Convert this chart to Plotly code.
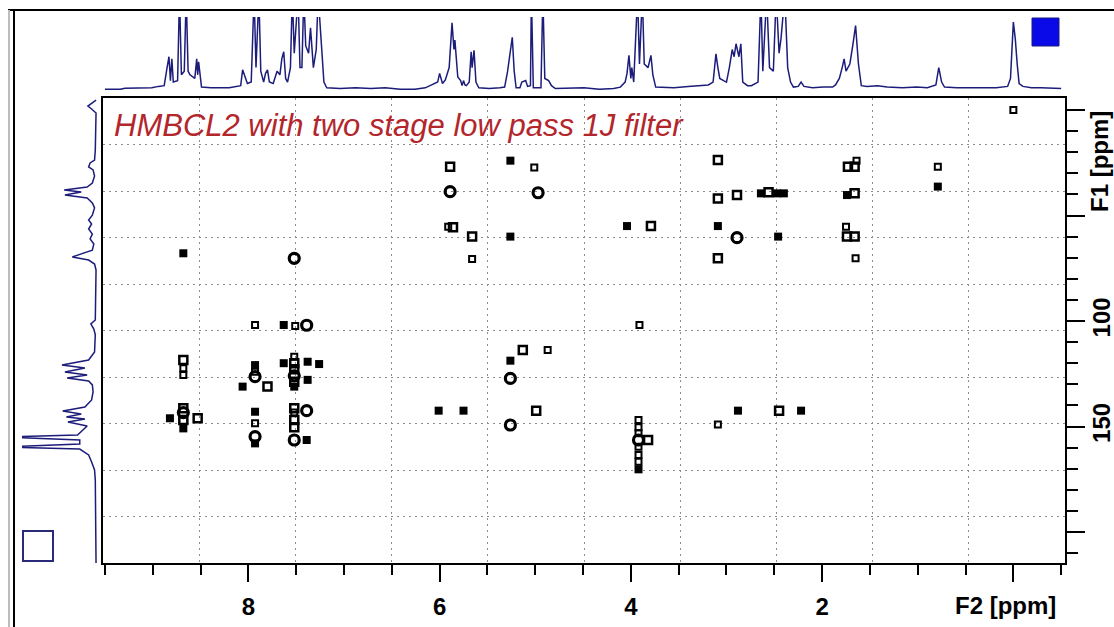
import plotly.graph_objects as go

W, H = 1114, 627


def px_x(p):
    return p / W


def px_y(p):
    return 1 - p / H


# 1H spectrum along F2: (ppm, relative intensity); values > 1 run off the top
h1_spectrum = [
    (9.50, 0.00), (9.34, 0.00), (9.29, 0.015), (9.25, 0.015), (9.01, 0.02), (8.94, 0.04),
    (8.88, 0.05), (8.85, 0.30), (8.83, 0.45), (8.815, 0.12), (8.80, 0.42), (8.785, 0.10),
    (8.74, 0.12), (8.72, 1.30), (8.70, 0.20), (8.67, 0.25), (8.65, 1.30), (8.63, 0.25),
    (8.61, 0.20), (8.56, 0.15), (8.54, 0.42), (8.53, 0.20), (8.52, 0.38), (8.49, 0.03),
    (8.39, 0.02), (8.20, 0.02), (8.08, 0.05), (8.06, 0.27), (8.04, 0.20), (8.01, 0.08),
    (7.97, 0.10), (7.94, 1.30), (7.92, 0.30), (7.89, 1.30), (7.87, 0.25), (7.84, 0.10),
    (7.82, 0.22), (7.80, 0.27), (7.78, 0.10), (7.74, 0.08), (7.70, 0.25), (7.67, 0.20),
    (7.65, 0.42), (7.63, 0.52), (7.61, 0.15), (7.59, 0.10), (7.56, 0.30), (7.54, 1.30),
    (7.52, 0.50), (7.48, 1.30), (7.46, 0.30), (7.44, 0.30), (7.42, 1.30), (7.40, 0.60),
    (7.37, 0.50), (7.35, 0.85), (7.32, 0.30), (7.29, 0.55), (7.27, 1.30), (7.24, 0.70),
    (7.21, 0.10), (7.18, 0.02), (7.04, 0.01), (6.88, 0.02), (6.72, 0.01), (6.57, 0.02),
    (6.41, 0.00), (6.26, 0.00), (6.15, 0.02), (6.10, 0.05), (6.05, 0.08), (6.02, 0.10),
    (6.00, 0.22), (5.97, 0.08), (5.94, 0.13), (5.90, 0.30), (5.87, 0.92), (5.85, 0.55),
    (5.84, 0.68), (5.81, 0.17), (5.78, 0.12), (5.765, 0.05), (5.75, 0.12), (5.735, 0.06),
    (5.72, 0.05), (5.69, 0.10), (5.67, 0.52), (5.66, 0.30), (5.64, 0.54), (5.62, 0.10),
    (5.59, 0.02), (5.48, 0.01), (5.37, 0.02), (5.32, 0.03), (5.29, 0.24), (5.26, 0.55),
    (5.24, 0.72), (5.22, 0.25), (5.20, 0.02), (5.16, 0.02), (5.14, 0.10), (5.10, 0.12),
    (5.08, 0.04), (5.05, 0.05), (5.04, 1.30), (5.02, 0.02), (4.94, 0.02), (4.92, 1.30),
    (4.90, 0.15), (4.86, 0.12), (4.83, 0.05), (4.79, 0.01), (4.65, 0.01), (4.49, 0.02),
    (4.33, 0.00), (4.18, 0.01), (4.11, 0.03), (4.06, 0.10), (4.04, 0.22), (4.02, 0.47),
    (4.00, 0.15), (3.99, 0.30), (3.97, 0.10), (3.93, 1.30), (3.91, 0.35), (3.88, 1.30),
    (3.86, 0.35), (3.82, 0.30), (3.79, 0.47), (3.77, 0.20), (3.74, 0.03), (3.55, 0.02),
    (3.40, 0.04), (3.29, 0.05), (3.19, 0.06), (3.14, 0.10), (3.11, 0.49), (3.09, 0.30),
    (3.07, 0.15), (3.03, 0.12), (3.00, 0.10), (2.97, 0.30), (2.94, 0.55), (2.92, 0.45),
    (2.90, 0.63), (2.87, 0.45), (2.85, 0.63), (2.83, 0.10), (2.78, 0.05), (2.74, 0.05),
    (2.70, 0.08), (2.67, 0.10), (2.64, 1.30), (2.62, 0.25), (2.58, 1.30), (2.55, 0.30),
    (2.51, 0.25), (2.48, 1.30), (2.45, 0.50), (2.43, 0.70), (2.39, 1.30), (2.36, 0.30),
    (2.33, 0.10), (2.30, 0.03), (2.25, 0.04), (2.22, 0.10), (2.19, 0.04), (2.10, 0.02),
    (1.99, 0.03), (1.89, 0.03), (1.86, 0.06), (1.82, 0.15), (1.79, 0.30), (1.77, 0.42),
    (1.75, 0.25), (1.71, 0.35), (1.68, 0.60), (1.65, 0.88), (1.62, 0.35), (1.59, 0.05),
    (1.53, 0.04), (1.42, 0.05), (1.32, 0.03), (1.16, 0.02), (1.01, 0.03), (0.90, 0.02),
    (0.81, 0.06), (0.78, 0.30), (0.75, 0.10), (0.72, 0.03), (0.59, 0.02), (0.38, 0.02),
    (0.18, 0.02), (0.06, 0.04), (0.03, 0.15), (0.00, 0.93), (-0.02, 0.70), (-0.04, 0.35),
    (-0.06, 0.08), (-0.10, 0.04), (-0.19, 0.02), (-0.29, 0.02), (-0.50, 0.01),
]

# 13C projection along F1: (ppm, relative intensity)
c13_projection = [
    (-4.7, 0.00), (-3.3, 0.05), (-1.9, 0.11), (-0.5, 0.06), (1.4, 0.00), (19.0, 0.01),
    (23.7, 0.02), (25.1, 0.08), (27.0, 0.10), (28.4, 0.04), (31.3, 0.02), (34.6, 0.05),
    (36.5, 0.12), (37.9, 0.43), (38.9, 0.20), (40.3, 0.42), (41.7, 0.12), (44.0, 0.05),
    (46.4, 0.02), (49.8, 0.05), (52.1, 0.10), (54.0, 0.06), (56.4, 0.10), (58.8, 0.05),
    (61.1, 0.08), (63.5, 0.03), (66.4, 0.05), (68.2, 0.20), (69.7, 0.32), (71.1, 0.10),
    (73.0, 0.02), (75.8, 0.00), (99.5, 0.01), (101.4, 0.07), (103.8, 0.03), (106.6, 0.01),
    (114.7, 0.02), (118.5, 0.10), (120.9, 0.46), (122.3, 0.15), (124.2, 0.42), (125.6, 0.12),
    (127.0, 0.39), (128.4, 0.10), (130.3, 0.05), (133.6, 0.04), (137.4, 0.06), (140.8, 0.15),
    (142.7, 0.45), (144.1, 0.20), (145.5, 0.40), (146.4, 0.15), (147.9, 0.38), (149.8, 0.12),
    (152.6, 0.20), (154.0, 0.25), (155.0, 1.30), (156.4, 0.22), (158.3, 0.22), (159.7, 1.30),
    (160.7, 0.22), (163.5, 0.10), (166.8, 0.06), (170.6, 0.02), (175.4, 0.01), (214.7, 0.00),
]

# HMBC cross peaks: (F2 ppm, F1 ppm, contour level)
cross_peaks = [
    (0.00, 0.0, 1),
    (5.89, 26.9, 2), (5.89, 38.7, 4), (5.91, 55.3, 1), (5.86, 55.6, 2),
    (5.66, 60.0, 2), (5.66, 70.6, 1), (5.26, 24.0, 3), (5.26, 60.0, 3),
    (5.01, 27.3, 1), (4.97, 39.2, 4), (4.04, 55.0, 3), (3.79, 55.0, 2),
    (3.09, 23.7, 2), (3.09, 41.9, 2), (2.89, 40.3, 2), (2.64, 39.5, 3),
    (2.56, 39.0, 2), (2.47, 39.5, 3), (2.40, 39.5, 3), (3.09, 55.0, 3),
    (2.89, 60.5, 4), (3.09, 70.3, 2), (2.46, 60.0, 3),
    (1.73, 26.9, 2), (1.66, 26.9, 2), (1.64, 24.0, 1),
    (1.74, 40.3, 3), (1.66, 39.5, 2), (1.75, 55.3, 1),
    (1.74, 60.0, 2), (1.66, 60.0, 2), (1.65, 70.3, 1),
    (0.79, 26.9, 1), (0.79, 36.3, 3),
    (8.68, 67.9, 3), (7.52, 70.3, 4),
    (7.93, 101.9, 1), (7.63, 101.9, 3), (7.51, 102.4, 1), (7.39, 102.0, 4),
    (3.91, 101.9, 1), (5.13, 113.7, 2), (4.87, 113.7, 1), (5.26, 118.8, 3), (5.26, 127.2, 4),
    (8.68, 118.5, 2), (8.68, 122.4, 1), (8.68, 125.6, 1),
    (7.93, 120.9, 3), (7.93, 124.0, 1), (7.93, 126.4, 4),
    (8.06, 131.1, 3), (7.80, 131.1, 2), (7.63, 120.0, 3),
    (7.52, 116.9, 1), (7.52, 120.0, 2), (7.52, 122.9, 2), (7.52, 126.0, 4),
    (7.52, 128.8, 2), (7.52, 131.1, 3),
    (7.38, 119.3, 3), (7.38, 127.9, 3), (7.26, 120.4, 3),
    (8.82, 146.1, 3), (8.68, 141.4, 2), (8.68, 143.4, 4), (8.68, 146.9, 2), (8.68, 150.9, 3),
    (8.53, 146.1, 2),
    (7.93, 143.0, 3), (7.93, 148.5, 1), (7.93, 154.8, 4), (7.93, 158.0, 3),
    (7.52, 141.4, 2), (7.52, 143.4, 1), (7.52, 146.9, 2), (7.52, 150.3, 2), (7.52, 156.4, 4),
    (7.39, 142.5, 4), (7.39, 156.4, 3),
    (6.01, 142.5, 3), (5.75, 142.5, 3), (4.99, 142.5, 2), (5.26, 149.3, 4),
    (3.92, 146.9, 1), (3.92, 150.4, 1), (3.92, 153.2, 1), (3.92, 156.4, 4),
    (3.92, 159.6, 1), (3.92, 163.5, 1), (3.92, 166.7, 1), (3.92, 170.3, 3),
    (3.82, 156.4, 2), (3.09, 149.0, 1), (2.88, 142.5, 3), (2.45, 142.5, 2), (2.22, 142.5, 3),
]

f2_tick_values = [0, 2, 4, 6, 8]
f2_tick_labels = ["", "2", "4", "6", "8"]
f1_tick_values = [0, 50, 100, 150, 200]
f1_tick_labels = ["", "", "100", "150", ""]

TITLE = "HMBCL2 with two stage low pass 1J filter"

NAVY = "#1c1c7a"
FONT = "Liberation Sans, Arial, sans-serif"

# contour level -> marker look
LEVEL_STYLE = {
    1: dict(symbol="square-open", size=6, color="black", line=dict(color="black", width=2)),
    2: dict(symbol="square-open", size=8, color="black", line=dict(color="black", width=2.5)),
    3: dict(symbol="square", size=8, color="black", line=dict(color="black", width=0)),
    4: dict(symbol="circle-open", size=10, color="black", line=dict(color="black", width=3.2)),
}

fig = go.Figure()

# invisible trace that carries the 10 x 10 dotted grid axes
fig.add_trace(go.Scatter(x=[None], y=[None], xaxis="x4", yaxis="y4",
                         showlegend=False, hoverinfo="skip"))

for lvl, style in LEVEL_STYLE.items():
    pts = [p for p in cross_peaks if p[2] == lvl]
    fig.add_trace(go.Scatter(
        x=[p[0] for p in pts], y=[p[1] for p in pts],
        mode="markers", marker=style, xaxis="x", yaxis="y",
        showlegend=False, hoverinfo="skip",
    ))

fig.add_trace(go.Scatter(
    x=[p[0] for p in h1_spectrum], y=[p[1] for p in h1_spectrum],
    mode="lines", line=dict(color=NAVY, width=1.5),
    xaxis="x", yaxis="y2", showlegend=False, hoverinfo="skip",
))

fig.add_trace(go.Scatter(
    x=[p[1] for p in c13_projection], y=[p[0] for p in c13_projection],
    mode="lines", line=dict(color=NAVY, width=1.5),
    xaxis="x3", yaxis="y", showlegend=False, hoverinfo="skip",
))

tick_font = dict(family=FONT, size=24, color="black", weight="bold")

fig.update_layout(
    width=W, height=H,
    margin=dict(l=0, r=0, t=0, b=0, autoexpand=False),
    paper_bgcolor="white", plot_bgcolor="white",
    showlegend=False,
    xaxis=dict(
        domain=[px_x(103), px_x(1065)], range=[9.52, -0.54], anchor="y",
        automargin=False, showgrid=False, zeroline=False,
        showline=True, mirror=True, linecolor="black", linewidth=2,
        tickmode="array", tickvals=f2_tick_values, ticktext=f2_tick_labels,
        ticks="outside", ticklen=17, tickwidth=2, tickcolor="black",
        ticklabelstandoff=4, tickfont=tick_font,
        minor=dict(tickmode="linear", tick0=0, dtick=0.5, ticks="outside",
                   ticklen=10, tickwidth=2, tickcolor="black", showgrid=False),
    ),
    yaxis=dict(
        domain=[px_y(563), px_y(98)], range=[214.7, -5.7], anchor="x", side="right",
        automargin=False, showgrid=False, zeroline=False,
        showline=True, mirror=True, linecolor="black", linewidth=2,
        tickmode="array", tickvals=f1_tick_values, ticktext=f1_tick_labels,
        ticks="outside", ticklen=18, tickwidth=2, tickcolor="black",
        tickangle=-90, ticklabelstandoff=-4, tickfont=tick_font,
        minor=dict(tickmode="linear", tick0=0, dtick=10, ticks="outside",
                   ticklen=11, tickwidth=2, tickcolor="black", showgrid=False),
    ),
    yaxis2=dict(domain=[px_y(90), px_y(17)], range=[-0.01, 1.0], anchor="x",
                automargin=False, visible=False, fixedrange=True),
    xaxis3=dict(domain=[px_x(22), px_x(97)], range=[1.0, -0.013], anchor="y",
                automargin=False, visible=False, fixedrange=True),
    xaxis4=dict(overlaying="x", anchor="y4", range=[0, 10], tickmode="linear",
                tick0=0, dtick=1, showgrid=True, gridcolor="#8c8c8c", gridwidth=1,
                griddash="2px,4px", showticklabels=False, ticks="", showline=False,
                zeroline=False, automargin=False),
    yaxis4=dict(overlaying="y", anchor="x4", range=[0, 10], tickmode="linear",
                tick0=0, dtick=1, showgrid=True, gridcolor="#8c8c8c", gridwidth=1,
                griddash="2px,4px", showticklabels=False, ticks="", showline=False,
                zeroline=False, automargin=False),
    annotations=[
        dict(text=TITLE, x=px_x(112), y=px_y(125), xref="paper", yref="paper",
             xanchor="left", yanchor="middle", showarrow=False,
             font=dict(family=FONT, size=31, color="#b3262c", style="italic")),
        dict(text="F2 [ppm]", x=px_x(1058), y=px_y(605), xref="paper", yref="paper",
             xanchor="right", yanchor="middle", showarrow=False, font=tick_font),
        dict(text="F1 [ppm]", x=px_x(1099), y=px_y(162), xref="paper", yref="paper",
             xanchor="center", yanchor="middle", textangle=-90, showarrow=False,
             font=tick_font),
    ],
    shapes=[
        # outer window frame
        dict(type="line", xref="paper", yref="paper", x0=px_x(8), x1=px_x(1114),
             y0=px_y(10), y1=px_y(10), line=dict(color="black", width=2)),
        dict(type="line", xref="paper", yref="paper", x0=px_x(14), x1=px_x(14),
             y0=px_y(10), y1=px_y(627), line=dict(color="black", width=2)),
        dict(type="line", xref="paper", yref="paper", x0=px_x(9), x1=px_x(9),
             y0=px_y(10), y1=px_y(627), line=dict(color="#bdbdbd", width=2)),
        # colour swatches
        dict(type="rect", xref="paper", yref="paper", x0=px_x(1032), x1=px_x(1059),
             y0=px_y(46), y1=px_y(18), fillcolor="#0a0ae8",
             line=dict(color="#1c1c7a", width=1)),
        dict(type="rect", xref="paper", yref="paper", x0=px_x(23), x1=px_x(53),
             y0=px_y(561), y1=px_y(531), fillcolor="rgba(0,0,0,0)",
             line=dict(color="#2a2a78", width=2)),
    ],
)

fig.write_html("out.html")
